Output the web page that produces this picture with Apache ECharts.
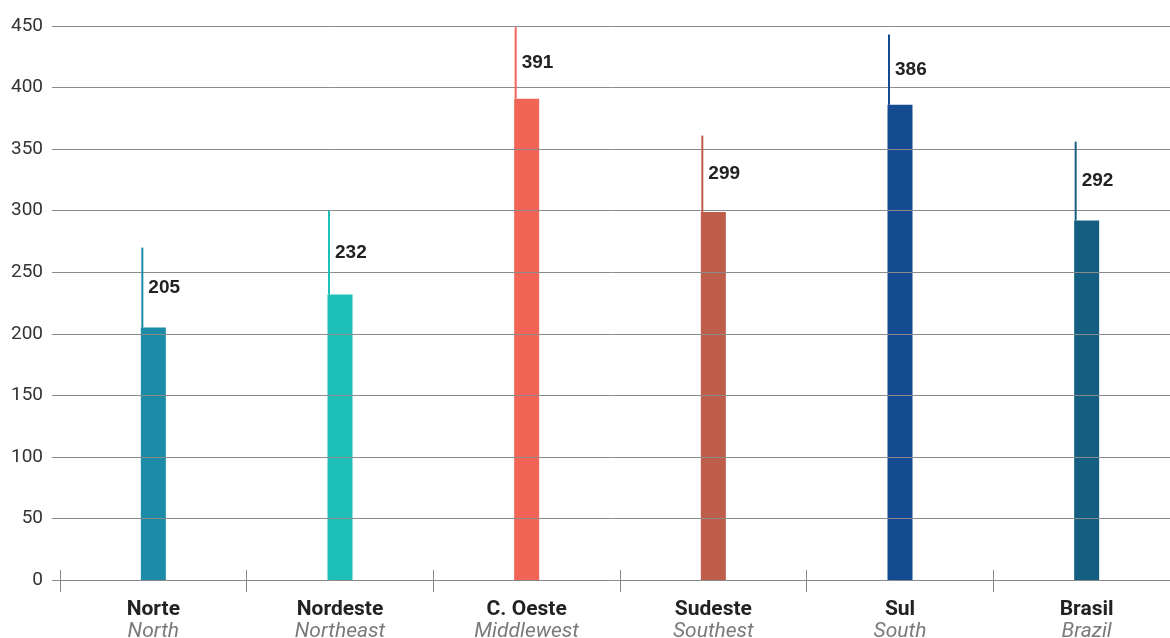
<!DOCTYPE html>
<html>
<head>
<meta charset="utf-8">
<script src="https://cdn.jsdelivr.net/npm/echarts@6/dist/echarts.min.js"></script>
<style>
  html, body { margin: 0; padding: 0; background: #fff; }
  #chart { width: 1170px; height: 638px; }
</style>
</head>
<body>
<div id="chart"></div>
<script>
// Region names (Portuguese / English)
const regionsPt = ['Norte', 'Nordeste', 'C. Oeste', 'Sudeste', 'Sul', 'Brasil'];
const regionsEn = ['North', 'Northeast', 'Middlewest', 'Southest', 'South', 'Brazil'];
// Central value per region
const values = [205, 232, 391, 299, 386, 292];
// Upper end of each range line
const upperValues = [270, 300, 449, 361, 443, 356];
const barColors = ['#1b8ba8', '#1fbfb9', '#f26455', '#bd5d4a', '#134a90', '#145e82'];
const yTicks = { min: 0, max: 450, interval: 50 };

const BAR_W = 25;
const chart = echarts.init(document.getElementById('chart'));

const categories = regionsPt.map((p, i) => '{a|' + p + '}\n{b|' + regionsEn[i] + '}');

chart.setOption({
  animation: false,
  grid: [
    { left: 52, width: 1128, top: 26, bottom: 58, containLabel: false, outerBoundsMode: 'none' },
    { left: 60, width: 1120, top: 26, bottom: 58, containLabel: false, outerBoundsMode: 'none' }
  ],
  xAxis: [
    {
      gridIndex: 1, type: 'category', data: categories, position: 'bottom',
      axisLine: { show: false },
      axisTick: { show: true, inside: false, length: 12, lineStyle: { color: '#888', width: 1 } },
      axisLabel: {
        margin: 19,
        rich: {
          a: { fontFamily: 'Roboto', fontWeight: 'bold', fontSize: 21, color: '#222', lineHeight: 22, align: 'center' },
          b: { fontFamily: 'Roboto', fontStyle: 'italic', fontSize: 21, color: '#7a7a7a', lineHeight: 22, align: 'center' }
        }
      },
      splitLine: { show: false }
    },
    {
      gridIndex: 1, type: 'category', data: categories, position: 'bottom',
      axisLine: { show: false },
      axisTick: { show: true, inside: true, length: 10, lineStyle: { color: '#888', width: 1 } },
      axisLabel: { show: false },
      splitLine: { show: false }
    },
    { gridIndex: 0, type: 'value', show: false, min: 0, max: 1 }
  ],
  yAxis: [
    {
      gridIndex: 0, type: 'value', min: yTicks.min, max: yTicks.max, interval: yTicks.interval,
      z: 3,
      axisLine: { show: false }, axisTick: { show: false },
      axisLabel: { margin: 9, fontFamily: 'Roboto', fontSize: 19, color: '#333' },
      splitLine: { show: true, lineStyle: { color: '#8a8a8a', width: 1 } }
    },
    {
      gridIndex: 1, type: 'value', min: yTicks.min, max: yTicks.max, interval: yTicks.interval,
      show: false, splitLine: { show: false }
    }
  ],
  series: [
    {
      type: 'bar', xAxisIndex: 0, yAxisIndex: 1, barWidth: BAR_W, z: 2,
      data: values.map((v, i) => ({ value: v, itemStyle: { color: barColors[i] } }))
    },
    {
      type: 'custom', xAxisIndex: 0, yAxisIndex: 1, z: 4,
      data: values.map((v, i) => [i, v, upperValues[i]]),
      renderItem: function (params, api) {
        const i = api.value(0);
        const base = api.coord([i, api.value(1)]);
        const top = api.coord([i, api.value(2)]);
        const x = base[0] - BAR_W / 2 + 1.5;
        const midY = (base[1] + top[1]) / 2;
        return {
          type: 'group',
          children: [
            {
              type: 'line',
              shape: { x1: x, y1: base[1], x2: x, y2: top[1] },
              style: { stroke: barColors[i], lineWidth: 2 }
            },
            {
              type: 'text',
              x: x + 6, y: midY,
              style: {
                text: String(api.value(1)),
                fontFamily: 'Liberation Sans', fontWeight: 'bold', fontSize: 19,
                fill: '#222', verticalAlign: 'middle', align: 'left'
              }
            }
          ]
        };
      }
    }
  ]
});
</script>
</body>
</html>
